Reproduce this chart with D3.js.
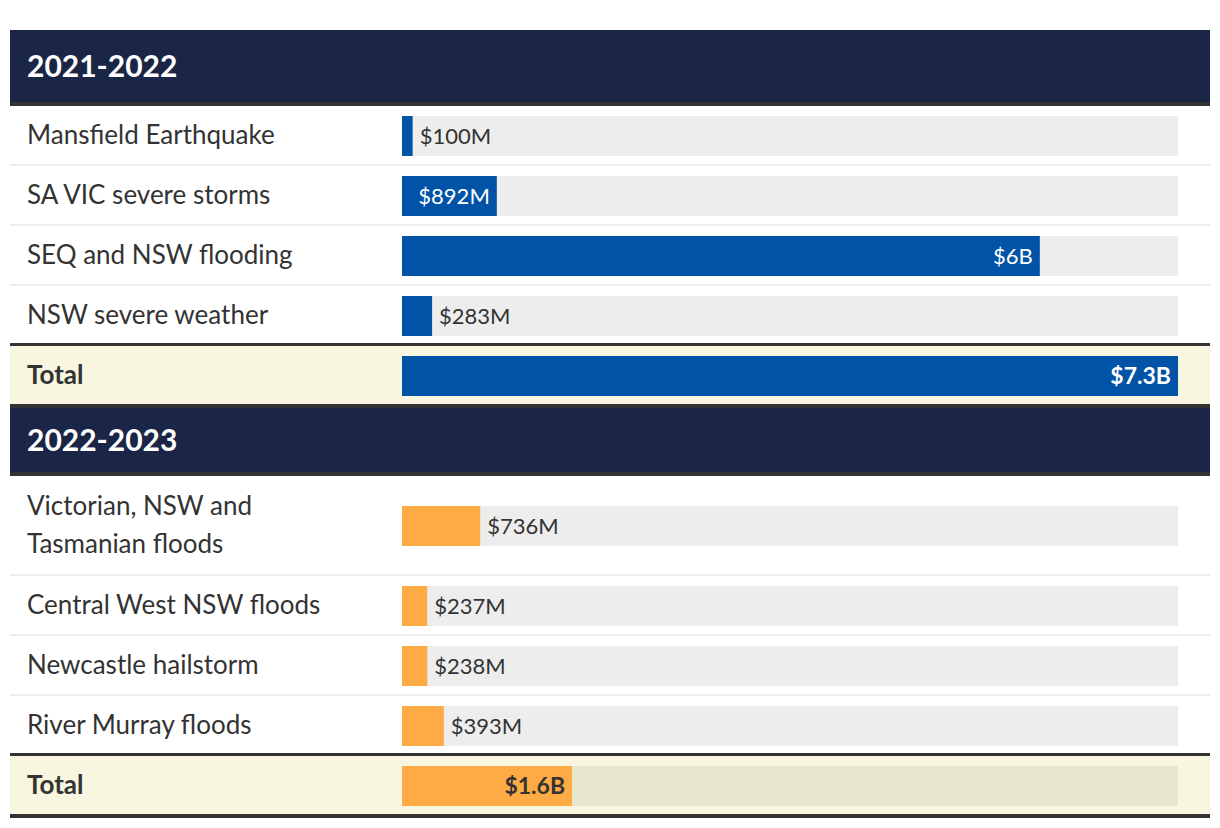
<!DOCTYPE html>
<html>
<head>
<meta charset="utf-8">
<script src="https://cdn.jsdelivr.net/npm/d3@7"></script>
<style>
  body { margin: 0; background: #fff; }
  svg { display: block; font-family: Lato, "Noto Sans", sans-serif; }
</style>
</head>
<body>
<svg id="chart"></svg>
<script>
// data (values in $ billions)
const periods = ['2021-2022', '2022-2023'];

const events2122 = ['Mansfield Earthquake', 'SA VIC severe storms', 'SEQ and NSW flooding', 'NSW severe weather'];
const values2122 = [0.1, 0.892, 6.0, 0.283];
const labels2122 = ['$100M', '$892M', '$6B', '$283M'];
const total2122 = 7.3;
const totalLabel2122 = '$7.3B';

const events2223 = [['Victorian, NSW and', 'Tasmanian floods'], 'Central West NSW floods', 'Newcastle hailstorm', 'River Murray floods'];
const values2223 = [0.736, 0.237, 0.238, 0.393];
const labels2223 = ['$736M', '$237M', '$238M', '$393M'];
const total2223 = 1.6;
const totalLabel2223 = '$1.6B';

const sectionColors = ['#0053a6', '#ffab45'];
const insideText = ['#fff', '#333'];

const sections = [
  { title: periods[0], events: events2122, values: values2122, labels: labels2122, total: total2122, totalLabel: totalLabel2122 },
  { title: periods[1], events: events2223, values: values2223, labels: labels2223, total: total2223, totalLabel: totalLabel2223 },
];

const width = 1220;
const height = 828;
const left = 10;
const right = 1210;
const trackX = 402;
const trackW = 776;
const barH = 40;

const svg = d3.select('#chart')
  .attr('width', width)
  .attr('height', height);

const x = d3.scaleLinear()
  .domain([0, d3.max(sections, (s) => s.total)])
  .range([0, trackW]);

// draws one bar with its value label, inside if it fits, outside otherwise
function drawBar(g, y, value, label, si, bold, trackFill) {
  g.append('rect')
    .attr('x', trackX).attr('y', y)
    .attr('width', trackW).attr('height', barH)
    .attr('fill', trackFill);
  const w = x(value);
  g.append('rect')
    .attr('x', trackX).attr('y', y)
    .attr('width', w).attr('height', barH)
    .attr('fill', sectionColors[si]);
  const t = g.append('text')
    .attr('y', y + barH / 2)
    .attr('dy', '0.35em')
    .style('font-size', bold ? '23px' : '22px')
    .style('font-weight', bold ? 700 : 400)
    .text(label);
  const tw = t.node().getComputedTextLength();
  if (tw + 14 < w) {
    t.attr('x', trackX + w - 7).attr('text-anchor', 'end').attr('fill', insideText[si]);
  } else {
    t.attr('x', trackX + w + 7).attr('text-anchor', 'start').attr('fill', '#333');
  }
}

let cursorY = 30;
sections.forEach((s, si) => {
  const g = svg.append('g');
  const headH = si === 0 ? 72 : 64;

  g.append('rect')
    .attr('x', left).attr('y', cursorY)
    .attr('width', right - left).attr('height', headH)
    .attr('fill', '#1b2646');
  g.append('text')
    .attr('x', 27).attr('y', cursorY + headH / 2)
    .attr('dy', '0.35em')
    .attr('fill', '#fff')
    .style('font-size', '30px')
    .style('font-weight', 700)
    .text(s.title);
  g.append('rect')
    .attr('x', left).attr('y', cursorY + headH)
    .attr('width', right - left).attr('height', 4)
    .attr('fill', '#333');
  cursorY += headH + 4;

  s.events.forEach((ev, i) => {
    const lines = Array.isArray(ev) ? ev : [ev];
    const rowH = lines.length > 1 ? 100 : 60;
    const last = i === s.events.length - 1;

    const label = g.append('text')
      .attr('fill', '#333')
      .style('font-size', '26px');
    lines.forEach((ln, li) => {
      label.append('tspan')
        .attr('x', 27)
        .attr('y', cursorY + rowH / 2 - 1 + (li - (lines.length - 1) / 2) * 38)
        .attr('dy', '0.35em')
        .text(ln);
    });

    drawBar(g, cursorY + (rowH - barH) / 2, s.values[i], s.labels[i], si, false, '#ededed');

    g.append('rect')
      .attr('x', left).attr('y', cursorY + rowH - (last ? 3 : 2))
      .attr('width', right - left).attr('height', last ? 3 : 2)
      .attr('fill', last ? '#333' : '#ededed');
    cursorY += rowH;
  });

  // total row
  g.append('rect')
    .attr('x', left).attr('y', cursorY)
    .attr('width', right - left).attr('height', 58)
    .attr('fill', '#f8f6de');
  g.append('text')
    .attr('x', 27).attr('y', cursorY + 29)
    .attr('dy', '0.35em')
    .attr('fill', '#333')
    .style('font-size', '26px')
    .style('font-weight', 700)
    .text('Total');
  drawBar(g, cursorY + 10, s.total, s.totalLabel, si, true, '#e7e7cd');
  g.append('rect')
    .attr('x', left).attr('y', cursorY + 58)
    .attr('width', right - left).attr('height', 4)
    .attr('fill', '#333');
  cursorY += 62;
});
</script>
</body>
</html>
